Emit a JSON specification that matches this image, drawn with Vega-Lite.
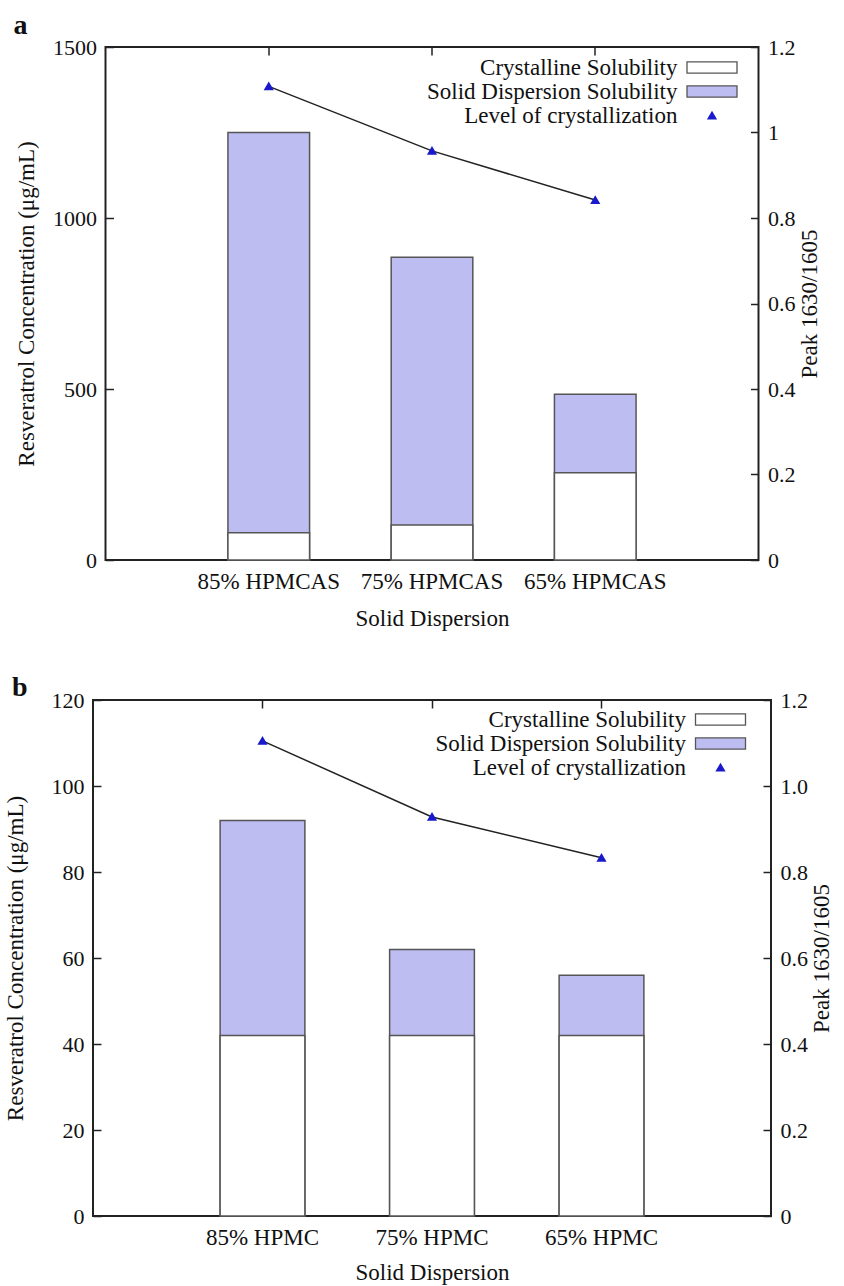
{
  "$schema": "https://vega.github.io/schema/vega-lite/v6.json",
  "background": "white",
  "padding": {"left": 3, "top": 11, "right": 0, "bottom": 0},
  "config": {
    "font": "Liberation Serif",
    "view": {"stroke": "#222222", "strokeWidth": 2},
    "axis": {
      "grid": false,
      "domain": false,
      "labelFont": "Liberation Serif",
      "titleFont": "Liberation Serif",
      "labelFontSize": 22,
      "titleFontSize": 23,
      "titleFontWeight": "normal",
      "labelColor": "#111111",
      "titleColor": "#111111",
      "tickColor": "#222222",
      "tickWidth": 1.5
    },
    "legend": {
      "title": null,
      "orient": "none",
      "direction": "vertical",
      "labelAlign": "right",
      "labelOffset": -46,
      "labelFont": "Liberation Serif",
      "labelFontSize": 23,
      "labelColor": "#111111",
      "labelLimit": 400,
      "symbolSize": 64,
      "symbolStrokeWidth": 1.3,
      "rowPadding": -1,
      "padding": 0
    }
  },
  "datasets": {
    "solubility_a": [
      {"dispersion": "85% HPMCAS", "series": "Solid Dispersion Solubility", "concentration": 1250},
      {"dispersion": "75% HPMCAS", "series": "Solid Dispersion Solubility", "concentration": 885},
      {"dispersion": "65% HPMCAS", "series": "Solid Dispersion Solubility", "concentration": 485},
      {"dispersion": "85% HPMCAS", "series": "Crystalline Solubility", "concentration": 80},
      {"dispersion": "75% HPMCAS", "series": "Crystalline Solubility", "concentration": 102},
      {"dispersion": "65% HPMCAS", "series": "Crystalline Solubility", "concentration": 255}
    ],
    "peak_a": [
      {"dispersion": "85% HPMCAS", "series": "Level of crystallization", "peak": 1.108},
      {"dispersion": "75% HPMCAS", "series": "Level of crystallization", "peak": 0.957},
      {"dispersion": "65% HPMCAS", "series": "Level of crystallization", "peak": 0.842}
    ],
    "solubility_b": [
      {"dispersion": "85% HPMC", "series": "Solid Dispersion Solubility", "concentration": 92},
      {"dispersion": "75% HPMC", "series": "Solid Dispersion Solubility", "concentration": 62},
      {"dispersion": "65% HPMC", "series": "Solid Dispersion Solubility", "concentration": 56},
      {"dispersion": "85% HPMC", "series": "Crystalline Solubility", "concentration": 42},
      {"dispersion": "75% HPMC", "series": "Crystalline Solubility", "concentration": 42},
      {"dispersion": "65% HPMC", "series": "Crystalline Solubility", "concentration": 42}
    ],
    "peak_b": [
      {"dispersion": "85% HPMC", "series": "Level of crystallization", "peak": 1.105},
      {"dispersion": "75% HPMC", "series": "Level of crystallization", "peak": 0.928},
      {"dispersion": "65% HPMC", "series": "Level of crystallization", "peak": 0.833}
    ]
  },
  "spacing": 140,
  "bounds": "flush",
  "center": true,
  "resolve": {"scale": {"fill": "independent", "stroke": "independent", "shape": "independent"}},
  "vconcat": [
    {
      "width": 653,
      "height": 513,
      "title": {"text": "a", "anchor": "start", "frame": "group", "font": "Liberation Serif", "fontSize": 28, "fontWeight": "bold", "color": "#111111", "dx": -92, "offset": -26, "baseline": "alphabetic"},
      "layer": [
        {
          "data": {"name": "solubility_a"},
          "mark": {"type": "bar", "strokeWidth": 1.5},
          "encoding": {
            "x": {"field": "dispersion", "type": "nominal", "sort": ["85% HPMCAS", "75% HPMCAS", "65% HPMCAS"],
                  "scale": {"paddingInner": 0.5, "paddingOuter": 0.75},
                  "axis": {"orient": "bottom", "ticks": false, "tickSize": 0, "labelAngle": 0, "labelPadding": 10, "labelFontSize": 23, "title": "Solid Dispersion", "titlePadding": 14}},
            "y": {"field": "concentration", "type": "quantitative", "stack": null,
                  "scale": {"domain": [0, 1500], "nice": false},
                  "axis": {"orient": "left", "values": [0, 500, 1000, 1500], "format": "d", "tickSize": -8, "labelPadding": 17, "title": "Resveratrol Concentration (μg/mL)", "titlePadding": 14}},
            "fill": {"field": "series", "type": "nominal",
                     "scale": {"domain": ["Crystalline Solubility", "Solid Dispersion Solubility", "Level of crystallization"], "range": ["#ffffff", "#bdbdf2", "#1a1acc"]},
                     "legend": {"legendX": 595, "legendY": 9}},
            "stroke": {"field": "series", "type": "nominal",
                       "scale": {"domain": ["Crystalline Solubility", "Solid Dispersion Solubility", "Level of crystallization"], "range": ["#555555", "#555555", "#1a1acc"]},
                       "legend": {"legendX": 595, "legendY": 9}}
          }
        },
        {
          "data": {"name": "peak_a"},
          "encoding": {
            "x": {"field": "dispersion", "type": "nominal", "sort": ["85% HPMCAS", "75% HPMCAS", "65% HPMCAS"],
                  "scale": {"paddingInner": 0.5, "paddingOuter": 0.75},
                  "axis": {"orient": "top", "labels": false, "ticks": true, "tickSize": -8, "title": null}},
            "y": {"field": "peak", "type": "quantitative",
                  "scale": {"domain": [0, 1.2], "nice": false},
                  "axis": {"orient": "right", "values": [0, 0.2, 0.4, 0.6, 0.8, 1, 1.2], "format": "~g", "tickSize": -8, "labelPadding": 17, "title": "Peak 1630/1605", "titleAngle": 270, "titleBaseline": "top", "titlePadding": 3}}
          },
          "layer": [
            {"mark": {"type": "line", "color": "#222222", "strokeWidth": 1.5}},
            {"mark": {"type": "point", "filled": true, "opacity": 1, "size": 45},
             "encoding": {
               "fill": {"field": "series", "type": "nominal",
                        "scale": {"domain": ["Crystalline Solubility", "Solid Dispersion Solubility", "Level of crystallization"], "range": ["#ffffff", "#bdbdf2", "#1a1acc"]},
                        "legend": {"legendX": 595, "legendY": 9}},
               "stroke": {"field": "series", "type": "nominal",
                          "scale": {"domain": ["Crystalline Solubility", "Solid Dispersion Solubility", "Level of crystallization"], "range": ["#555555", "#555555", "#1a1acc"]},
                          "legend": {"legendX": 595, "legendY": 9}},
               "shape": {"field": "series", "type": "nominal",
                         "scale": {"domain": ["Crystalline Solubility", "Solid Dispersion Solubility", "Level of crystallization"], "range": ["M-6.25,-1.4H6.25V1.4H-6.25Z", "M-6.25,-1.4H6.25V1.4H-6.25Z", "triangle-up"]},
                         "legend": {"legendX": 595, "legendY": 9}}
             }}
          ]
        }
      ],
      "resolve": {"scale": {"y": "independent"}, "axis": {"x": "independent"}}
    },
    {
      "width": 678,
      "height": 516,
      "title": {"text": "b", "anchor": "start", "frame": "group", "font": "Liberation Serif", "fontSize": 28, "fontWeight": "bold", "color": "#111111", "dx": -81, "offset": -35, "baseline": "alphabetic"},
      "layer": [
        {
          "data": {"name": "solubility_b"},
          "mark": {"type": "bar", "strokeWidth": 1.5},
          "encoding": {
            "x": {"field": "dispersion", "type": "nominal", "sort": ["85% HPMC", "75% HPMC", "65% HPMC"],
                  "scale": {"paddingInner": 0.5, "paddingOuter": 0.75},
                  "axis": {"orient": "bottom", "ticks": false, "tickSize": 0, "labelAngle": 0, "labelPadding": 10, "labelFontSize": 23, "title": "Solid Dispersion", "titlePadding": 12}},
            "y": {"field": "concentration", "type": "quantitative", "stack": null,
                  "scale": {"domain": [0, 120], "nice": false},
                  "axis": {"orient": "left", "values": [0, 20, 40, 60, 80, 100, 120], "format": "d", "tickSize": -8, "labelPadding": 17, "title": "Resveratrol Concentration (μg/mL)", "titlePadding": 24}},
            "fill": {"field": "series", "type": "nominal",
                     "scale": {"domain": ["Crystalline Solubility", "Solid Dispersion Solubility", "Level of crystallization"], "range": ["#ffffff", "#bdbdf2", "#1a1acc"]},
                     "legend": {"legendX": 616, "legendY": 8}},
            "stroke": {"field": "series", "type": "nominal",
                       "scale": {"domain": ["Crystalline Solubility", "Solid Dispersion Solubility", "Level of crystallization"], "range": ["#555555", "#555555", "#1a1acc"]},
                       "legend": {"legendX": 616, "legendY": 8}}
          }
        },
        {
          "data": {"name": "peak_b"},
          "encoding": {
            "x": {"field": "dispersion", "type": "nominal", "sort": ["85% HPMC", "75% HPMC", "65% HPMC"],
                  "scale": {"paddingInner": 0.5, "paddingOuter": 0.75},
                  "axis": {"orient": "top", "labels": false, "ticks": true, "tickSize": -8, "title": null}},
            "y": {"field": "peak", "type": "quantitative",
                  "scale": {"domain": [0, 1.2], "nice": false},
                  "axis": {"orient": "right", "values": [0, 0.2, 0.4, 0.6, 0.8, 1, 1.2], "labelExpr": "datum.value === 0 ? '0' : format(datum.value, '.1f')", "tickSize": -8, "labelPadding": 17, "title": "Peak 1630/1605", "titleAngle": 270, "titleBaseline": "top", "titlePadding": 3}}
          },
          "layer": [
            {"mark": {"type": "line", "color": "#222222", "strokeWidth": 1.5}},
            {"mark": {"type": "point", "filled": true, "opacity": 1, "size": 45},
             "encoding": {
               "fill": {"field": "series", "type": "nominal",
                        "scale": {"domain": ["Crystalline Solubility", "Solid Dispersion Solubility", "Level of crystallization"], "range": ["#ffffff", "#bdbdf2", "#1a1acc"]},
                        "legend": {"legendX": 616, "legendY": 8}},
               "stroke": {"field": "series", "type": "nominal",
                          "scale": {"domain": ["Crystalline Solubility", "Solid Dispersion Solubility", "Level of crystallization"], "range": ["#555555", "#555555", "#1a1acc"]},
                          "legend": {"legendX": 616, "legendY": 8}},
               "shape": {"field": "series", "type": "nominal",
                         "scale": {"domain": ["Crystalline Solubility", "Solid Dispersion Solubility", "Level of crystallization"], "range": ["M-6.25,-1.4H6.25V1.4H-6.25Z", "M-6.25,-1.4H6.25V1.4H-6.25Z", "triangle-up"]},
                         "legend": {"legendX": 616, "legendY": 8}}
             }}
          ]
        }
      ],
      "resolve": {"scale": {"y": "independent"}, "axis": {"x": "independent"}}
    }
  ]
}
